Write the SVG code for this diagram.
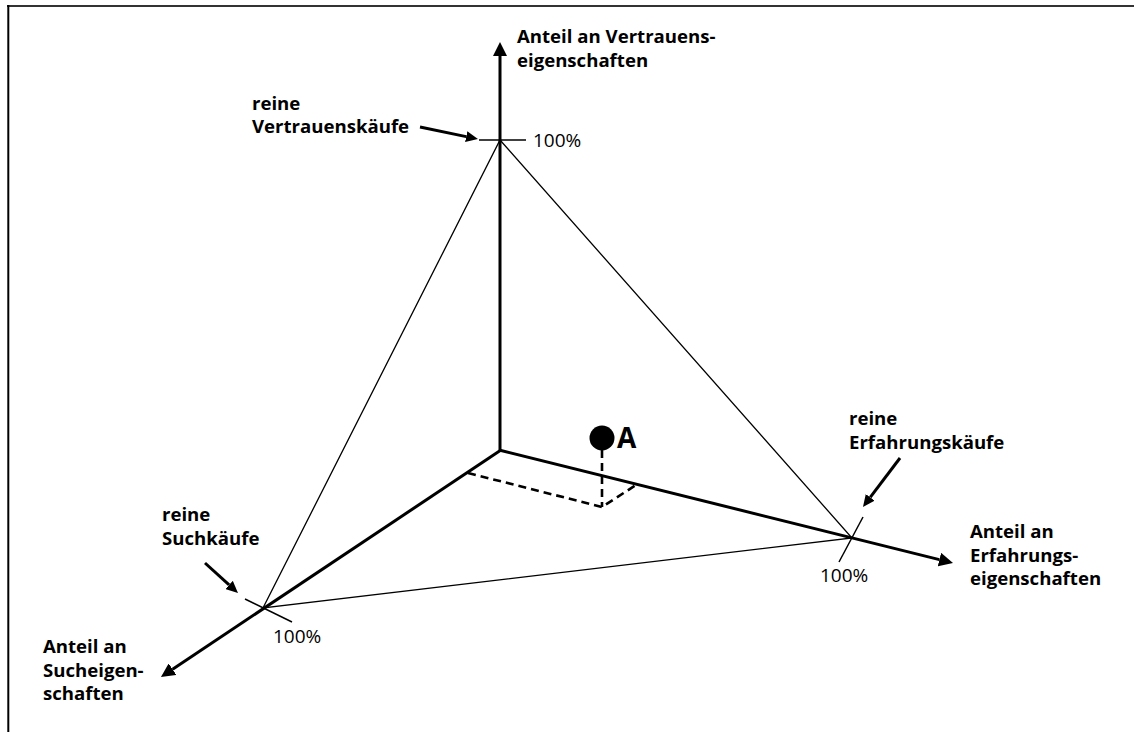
<svg xmlns="http://www.w3.org/2000/svg" width="1134" height="732" viewBox="0 0 1134 732">
  <style>
    .lbl { font-family: "Open Sans", "Liberation Sans", sans-serif; font-weight: bold; font-size: 18.6px; fill: #000; }
    .pct { font-family: "Open Sans", "Liberation Sans", sans-serif; font-size: 19px; fill: #000; }
    .axis { stroke: #000; stroke-width: 3; fill: none; }
    .edge { stroke: #000; stroke-width: 1.3; fill: none; }
    .tick { stroke: #000; stroke-width: 1.5; fill: none; }
    .ptr { stroke: #000; stroke-width: 3; fill: none; }
    .dash { stroke: #000; stroke-width: 2.6; stroke-dasharray: 8 5; fill: none; }
  </style>
  <defs>
    <marker id="axisHead" markerUnits="userSpaceOnUse" markerWidth="14" markerHeight="14" refX="0" refY="7" orient="auto">
      <path d="M0,0 L14,7 L0,14 z" fill="#000"/>
    </marker>
    <marker id="ptrHead" markerUnits="userSpaceOnUse" markerWidth="12" markerHeight="11" refX="0" refY="5.5" orient="auto">
      <path d="M0,0 L12,5.5 L0,11 z" fill="#000"/>
    </marker>
  </defs>

  <rect width="1134" height="732" fill="#fff"/>
  <!-- frame -->
  <line x1="7" y1="6" x2="1134" y2="6" stroke="#333" stroke-width="2"/>
  <line x1="8.3" y1="5" x2="8.3" y2="732" stroke="#000" stroke-width="2"/>

  <g id="connectors">
    <!-- axes -->
    <line class="axis" x1="500" y1="451" x2="500" y2="56" marker-end="url(#axisHead)"/>
    <line class="axis" x1="499" y1="450" x2="939.4" y2="559.6" marker-end="url(#axisHead)"/>
    <line class="axis" x1="501" y1="450" x2="172.6" y2="669.2" marker-end="url(#axisHead)"/>
    <!-- triangle of pure purchase types -->
    <path class="edge" d="M500,140 L852,538 L263,608 Z"/>
    <!-- 100% ticks -->
    <line class="tick" x1="479" y1="140" x2="526" y2="140"/>
    <line class="tick" x1="839" y1="562" x2="863" y2="517"/>
    <line class="tick" x1="245" y1="599" x2="292" y2="622"/>
    <!-- pointers -->
    <line class="ptr" x1="420" y1="127" x2="466.2" y2="136.6" marker-end="url(#ptrHead)"/>
    <line class="ptr" x1="900" y1="458" x2="870.2" y2="497.4" marker-end="url(#ptrHead)"/>
    <line class="ptr" x1="205" y1="563" x2="229.1" y2="584.9" marker-end="url(#ptrHead)"/>
    <!-- projection of A -->
    <path class="dash" d="M602,450 L602,507"/>
    <path class="dash" d="M468,473 L602,507 L636,485"/>
  </g>

  <g id="axis-vertrauen">
    <text class="lbl" x="517" y="43">Anteil an Vertrauens-</text>
    <text class="lbl" x="517" y="66.5">eigenschaften</text>
    <text class="pct" x="533" y="147">100%</text>
  </g>

  <g id="axis-erfahrung">
    <text class="lbl" x="970" y="538">Anteil an</text>
    <text class="lbl" x="970" y="561.5">Erfahrungs-</text>
    <text class="lbl" x="970" y="585">eigenschaften</text>
    <text class="pct" x="820" y="582">100%</text>
  </g>

  <g id="axis-suche">
    <text class="lbl" x="43" y="653">Anteil an</text>
    <text class="lbl" x="43" y="676.5">Sucheigen-</text>
    <text class="lbl" x="43" y="700">schaften</text>
    <text class="pct" x="273" y="643">100%</text>
  </g>

  <g id="reine-vertrauenskaeufe">
    <text class="lbl" x="252" y="109.5">reine</text>
    <text class="lbl" x="252" y="133">Vertrauenskäufe</text>
  </g>

  <g id="reine-erfahrungskaeufe">
    <text class="lbl" x="849" y="425">reine</text>
    <text class="lbl" x="849" y="448.5">Erfahrungskäufe</text>
  </g>

  <g id="reine-suchkaeufe">
    <text class="lbl" x="162" y="521">reine</text>
    <text class="lbl" x="162" y="544.5">Suchkäufe</text>
  </g>

  <g id="point-a">
    <circle cx="602" cy="438" r="12.5" fill="#000"/>
    <text class="lbl" x="617" y="448" style="font-size:28px">A</text>
  </g>
</svg>
